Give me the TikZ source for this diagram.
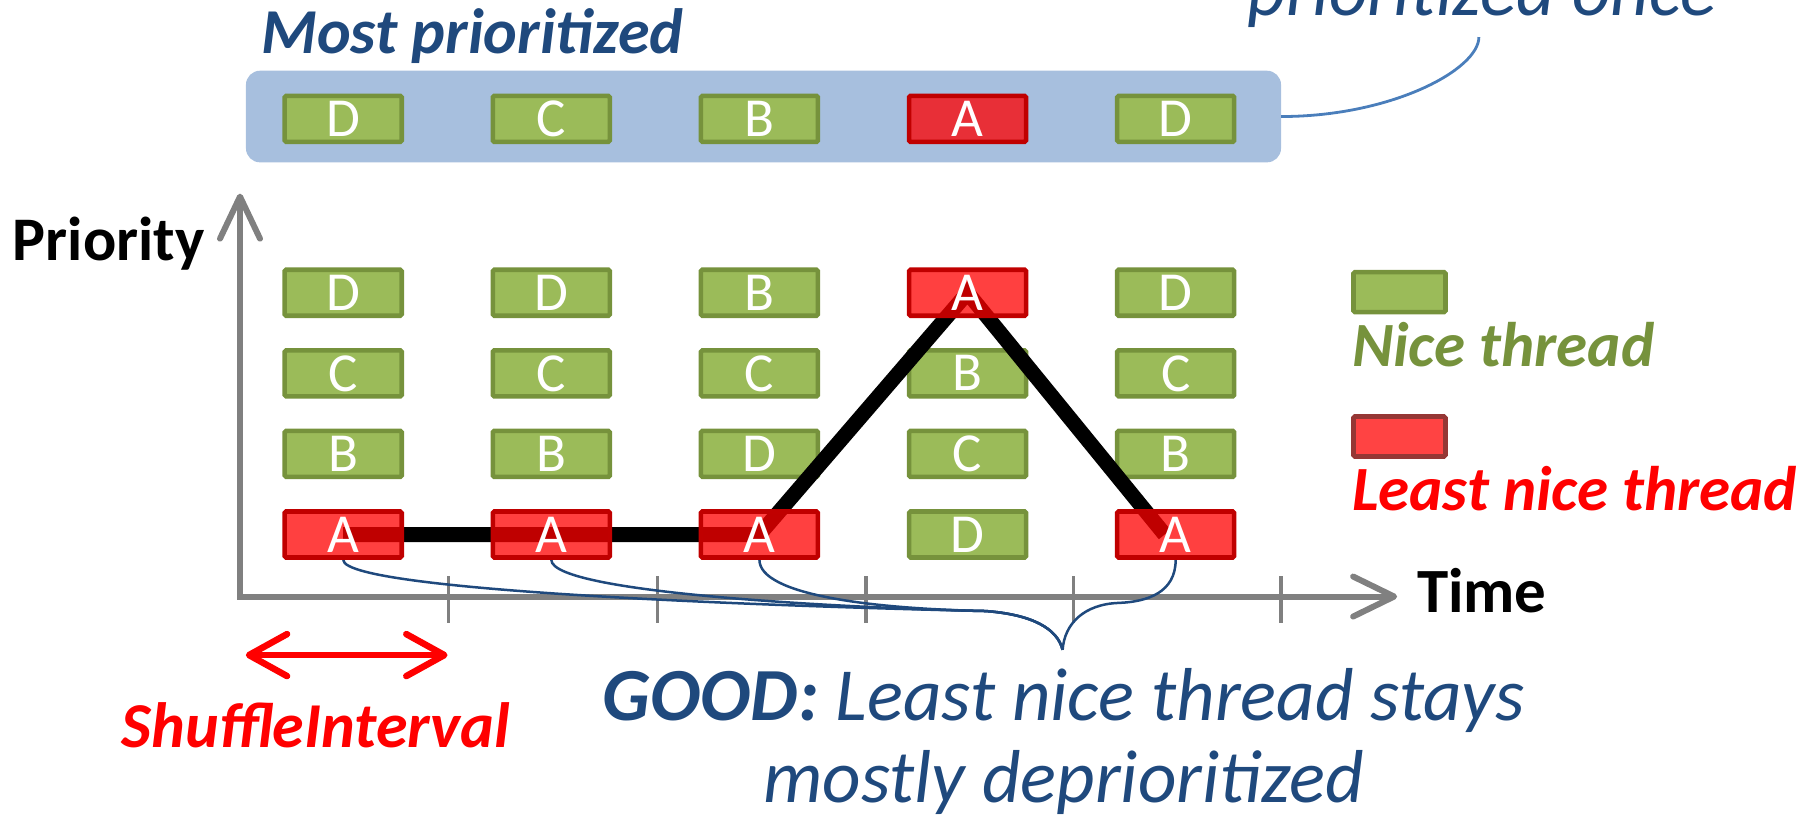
\documentclass[tikz,border=0pt]{standalone}
\usepackage{fontspec}
\setmainfont{Carlito}
\usetikzlibrary{arrows.meta}

\definecolor{nicefill}{HTML}{9BBB59}
\definecolor{niceline}{HTML}{76923C}
\definecolor{hogline}{HTML}{C00000}
\definecolor{keyhogline}{HTML}{953735}
\definecolor{keyhogfill}{HTML}{FF4343}
\definecolor{bandblue}{HTML}{A7BFDE}
\definecolor{inkblue}{HTML}{1F497D}
\definecolor{calloutblue}{HTML}{4A7EBB}
\definecolor{axisgray}{HTML}{808080}

\pgfdeclarelayer{front}
\pgfsetlayers{main,front}

\tikzset{
  thread/.style={draw=niceline, fill=nicefill, line width=4.6pt,
    minimum width=117pt, minimum height=46pt, inner sep=0pt,
    rounded corners=1.5pt, text=white,
    font=\fontsize{55pt}{55pt}\selectfont},
  hog/.style={thread, draw=hogline, fill=red, fill opacity=0.75,
    text opacity=1},
  keynice/.style={draw=niceline, fill=nicefill, line width=4.6pt,
    minimum width=92pt, minimum height=40pt, inner sep=0pt,
    rounded corners=1.5pt},
  keyhog/.style={keynice, draw=keyhogline, fill=keyhogfill},
  band/.style={fill=bandblue, rounded corners=14pt, inner sep=0pt,
    minimum width=1035pt, minimum height=91.6pt},
  label/.style={inner sep=0pt, anchor=base west},
  axis/.style={draw=axisgray, line width=6pt,
    {Straight Barb[length=42pt, width=40pt, line cap=round, line join=round]}-{Straight Barb[length=41pt, width=40pt, line cap=round, line join=round]}},
  tickmark/.style={draw=axisgray, line width=3.5pt},
  interval/.style={draw=red, line width=6.5pt,
    {Straight Barb[length=38pt, width=42pt, line cap=round, line join=round]}-{Straight Barb[length=38pt, width=42pt, line cap=round, line join=round]}},
  ranking/.style={draw=black, line width=15pt},
  brace/.style={draw=inkblue, line width=2.5pt},
  callout/.style={draw=calloutblue, line width=2.8pt},
}

\begin{document}
\begin{tikzpicture}[x=1.1594pt, y=-1.1594pt]
\useasboundingbox (0,0) rectangle (1568,709);

% ---- current order of the threads, inside the band ----
\node[band] (band) at (658.5,100.5) {};
\node[thread] (b1) at (296,102.5) {D};
\node[thread] (b2) at (475.5,102.5) {C};
\node[thread] (b3) at (655,102.5) {B};
\node[hog]    (b4) at (834.5,102.5) {A};
\node[thread] (b5) at (1014,102.5) {D};

\node[label, text=inkblue, font=\fontsize{64pt}{64pt}\selectfont\bfseries\itshape]
  (mostprio) at (225,46) {Most prioritized};

\node[label, text=inkblue, font=\fontsize{75pt}{75pt}\selectfont\itshape]
  (once) at (1076,13) {prioritized once};
\coordinate (oncetail) at (1275.5,32);
\draw[callout] (band.east) .. controls (1200,100.5) and (1275.5,60) .. (oncetail);

% ---- axes ----
\coordinate (origin) at (207,514.5);
\coordinate (ytip) at (207,167);
\coordinate (xtip) at (1205,514.5);
\foreach \x in {387,567,747,926,1105}
  \draw[tickmark] (\x,497) -- (\x,537);
\draw[axis] (ytip) -- (origin) -- (xtip);

\node[label, font=\fontsize{62pt}{62pt}\selectfont\bfseries] (prio) at (11,225) {Priority};
\node[label, font=\fontsize{63pt}{63pt}\selectfont\bfseries] (time) at (1222,528.5) {Time};

% ---- priority order per shuffle interval ----
\foreach \c/\x/\p/\q/\r in {1/296/D/C/B, 2/475.5/D/C/B, 3/655/B/C/D, 5/1014/D/C/B}{
  \node[thread] (t\c-1) at (\x,252.5) {\p};
  \node[thread] (t\c-2) at (\x,322) {\q};
  \node[thread] (t\c-3) at (\x,391.5) {\r};
}
\node[thread] (t4-2) at (834.5,322) {B};
\node[thread] (t4-3) at (834.5,391.5) {C};
\node[thread] (t4-4) at (834.5,461) {D};

\begin{pgfonlayer}{front}
  \foreach \c/\x in {1/296, 2/475.5, 3/655, 5/1014}
    \node[hog] (t\c-4) at (\x,461) {A};
  \node[hog] (t4-1) at (834.5,252.5) {A};
\end{pgfonlayer}

% path of the least nice thread
\draw[ranking] (t1-4.center) -- (t3-4.center) -- (t4-1.center) -- ([xshift=-11pt]t5-4.center);

% ---- legend ----
\node[keynice] (keyn) at (1207,252) {};
\node[label, text=niceline, font=\fontsize{63pt}{63pt}\selectfont\bfseries\itshape]
  (keyntext) at (1166,316) {Nice thread};
\node[keyhog] (keyh) at (1207,376.5) {};
\node[label, text=red, font=\fontsize{63pt}{63pt}\selectfont\bfseries\itshape]
  (keyhtext) at (1166,440) {Least nice thread};

% ---- shuffle interval ----
\coordinate (si-l) at (212,565);
\coordinate (si-r) at (386,565);
\draw[interval] (si-l) -- (si-r);
\node[label, text=red, font=\fontsize{64pt}{64pt}\selectfont\bfseries\itshape]
  (sitext) at (105,645) {ShuffleInterval};

% ---- brace gathering the low-priority slots ----
\coordinate (tip) at (916.5,560.5);
\coordinate (merge) at (850,527);
\coordinate (bend) at (965,520);
\foreach \c in {1,2,3}
  \draw[brace] (t\c-4.south) .. controls +(0,30) and (750,525) .. (merge)
    .. controls (890,530) and (912,542) .. (tip);
\draw[brace] (t5-4.south) .. controls +(0,28) and (990,519) .. (bend)
  .. controls (935,521) and (918,538) .. (tip);

\node[inner sep=0pt, anchor=base, text=inkblue, font=\fontsize{75pt}{75pt}\selectfont\itshape]
  (good1) at (917.5,621) {\textbf{GOOD:} Least nice thread stays};
\node[inner sep=0pt, anchor=base, text=inkblue, font=\fontsize{75pt}{75pt}\selectfont\itshape]
  (good2) at (917.5,692) {mostly deprioritized};
\end{tikzpicture}
\end{document}
